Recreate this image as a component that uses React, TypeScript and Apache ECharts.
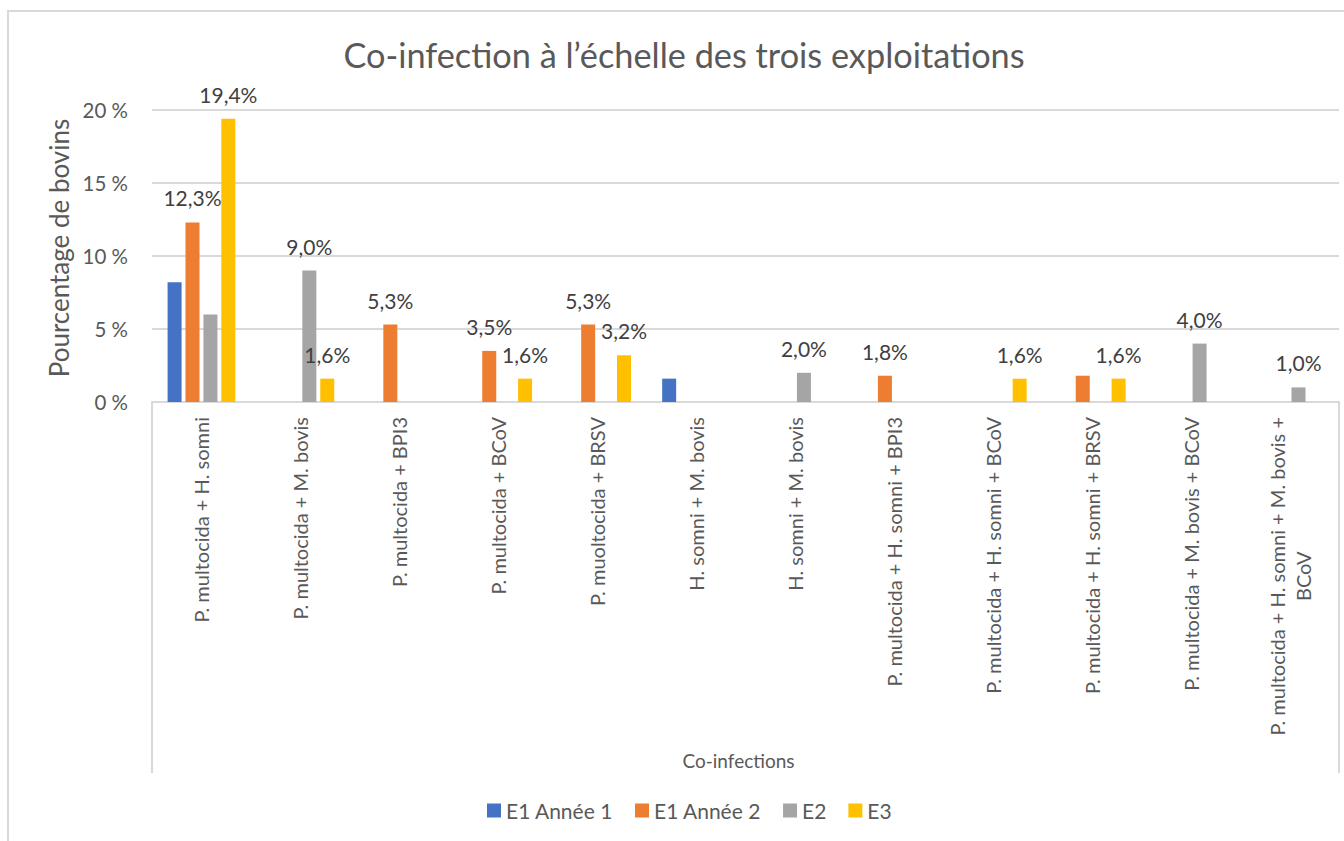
import React, { useEffect, useRef } from "react";
import * as echarts from "echarts";

const categories = [
  "P. multocida + H. somni",
  "P. multocida + M. bovis",
  "P. multocida + BPI3",
  "P. multocida + BCoV",
  "P. muoltocida + BRSV",
  "H. somni + M. bovis",
  "H. somni + M. bovis",
  "P. multocida + H. somni + BPI3",
  "P. multocida + H. somni + BCoV",
  "P. multocida + H. somni + BRSV",
  "P. multocida + M. bovis + BCoV",
  "P. multocida + H. somni + M. bovis +\nBCoV",
];

const seriesNames = ["E1 Année 1", "E1 Année 2", "E2", "E3"];
const e1Annee1 = [8.2, null, null, null, null, 1.6, null, null, null, null, null, null];
const e1Annee2 = [12.3, null, 5.3, 3.5, 5.3, null, null, 1.8, null, 1.8, null, null];
const e2 = [6.0, 9.0, null, null, null, null, 2.0, null, null, null, 4.0, 1.0];
const e3 = [19.4, 1.6, null, 1.6, 3.2, null, null, null, 1.6, 1.6, null, null];
// which values carry a data label in the original
const e1Annee1Labels = [false, false, false, false, false, false, false, false, false, false, false, false];
const e1Annee2Labels = [true, false, true, true, true, false, false, true, false, false, false, false];
const e2Labels = [false, true, false, false, false, false, true, false, false, false, true, true];
const e3Labels = [true, true, false, true, true, false, false, false, true, true, false, false];

const yTicks = [0, 5, 10, 15, 20];
const colors = ["#4472C4", "#ED7D31", "#A5A5A5", "#FFC000"];

const FONT = "Lato";
const TEXT = "#595959";
const LABEL = "#404040";
const GRIDLINE = "#D9D9D9";

export default function App() {
  const ref = useRef<HTMLDivElement>(null);
  useEffect(() => {
    if (!ref.current) return;
    const chart = echarts.init(ref.current, null, { renderer: "svg" });

    const catFontSize = 20;
    const canvas = document.createElement("canvas");
    const ctx = canvas.getContext("2d")!;
    ctx.font = `${catFontSize}px ${FONT}`;

    const fmtCat = (v: string) => {
      if (v.indexOf("\n") < 0) return v;
      const [l1, l2] = v.split("\n");
      const w = ctx.measureText(l1).width;
      return `${l1}\n{c${Math.round(w)}|${l2}}`;
    };
    const rich: Record<string, any> = {};
    categories.forEach((c) => {
      if (c.indexOf("\n") >= 0) {
        const l1 = c.split("\n")[0];
        const w = Math.round(ctx.measureText(l1).width);
        rich["c" + w] = { width: w, align: "center", fontFamily: FONT, fontSize: catFontSize, color: TEXT };
      }
    });

    const all = [e1Annee1, e1Annee2, e2, e3];
    const labs = [e1Annee1Labels, e1Annee2Labels, e2Labels, e3Labels];

    const series = all.map((arr, si) => ({
      type: "bar",
      name: seriesNames[si],
      barWidth: 14,
      barGap: "28%",
      itemStyle: { color: colors[si] },
      data: arr.map((v, i) => ({
        value: v,
        label: { show: v != null && labs[si][i] },
      })),
      label: {
        position: "top",
        distance: 14,
        fontFamily: FONT,
        fontSize: 21,
        color: LABEL,
        formatter: (p: any) => p.value.toFixed(1).replace(".", ",") + "%",
      },
    }));

    chart.setOption({
      animation: false,
      backgroundColor: "#ffffff",
      title: {
        text: "Co-infection à l’échelle des trois exploitations",
        left: 679,
        textAlign: "center",
        top: 32,
        textStyle: { fontFamily: FONT, fontSize: 34.3, fontWeight: "normal", color: TEXT },
      },
      legend: {
        top: 795,
        left: 482,
        itemWidth: 14,
        itemHeight: 14,
        itemGap: 22,
        icon: "rect",
        textStyle: { fontFamily: FONT, fontSize: 21, color: TEXT },
        data: seriesNames,
      },
      grid: { left: 152, right: 5, top: 110, bottom: 439, containLabel: false },
      xAxis: {
        type: "category",
        data: categories,
        axisLine: { lineStyle: { color: GRIDLINE, width: 2 } },
        axisTick: { show: false },
        axisLabel: {
          interval: 0,
          rotate: 90,
          margin: 15,
          fontFamily: FONT,
          fontSize: catFontSize,
          color: TEXT,
          lineHeight: 26,
          formatter: fmtCat,
          rich,
        },
        name: "Co-infections",
        nameLocation: "middle",
        nameGap: 349,
        nameTextStyle: { fontFamily: FONT, fontSize: 19, color: TEXT, padding: [0, 14, 0, 0] },
      },
      yAxis: {
        type: "value",
        min: 0,
        max: 20,
        interval: 5,
        axisLine: { show: false },
        axisTick: { show: false },
        splitLine: { lineStyle: { color: GRIDLINE, width: 2 } },
        axisLabel: {
          margin: 24,
          fontFamily: FONT,
          fontSize: 20.5,
          color: TEXT,
          formatter: (v: number) => (yTicks.includes(v) ? `${v} %` : ""),
        },
        name: "Pourcentage de bovins",
        nameLocation: "middle",
        nameGap: 78,
        nameRotate: 90,
        nameTextStyle: { fontFamily: FONT, fontSize: 26, color: TEXT, padding: [0, 0, 0, 16] },
      },
      graphic: [
        { type: "rect", shape: { x: 8, y: 11, width: 1400, height: 900 }, style: { fill: "none", stroke: GRIDLINE, lineWidth: 2 }, silent: true },
        { type: "line", shape: { x1: 152, y1: 402, x2: 152, y2: 773 }, style: { stroke: GRIDLINE, lineWidth: 2 }, silent: true },
        { type: "line", shape: { x1: 1339, y1: 402, x2: 1339, y2: 773 }, style: { stroke: GRIDLINE, lineWidth: 2 }, silent: true },
      ],
      series,
    });
    return () => chart.dispose();
  }, []);
  return (
    <div
      ref={ref}
      style={{ position: "fixed", left: 0, top: 0, width: 1344, height: 841 }}
    />
  );
}
